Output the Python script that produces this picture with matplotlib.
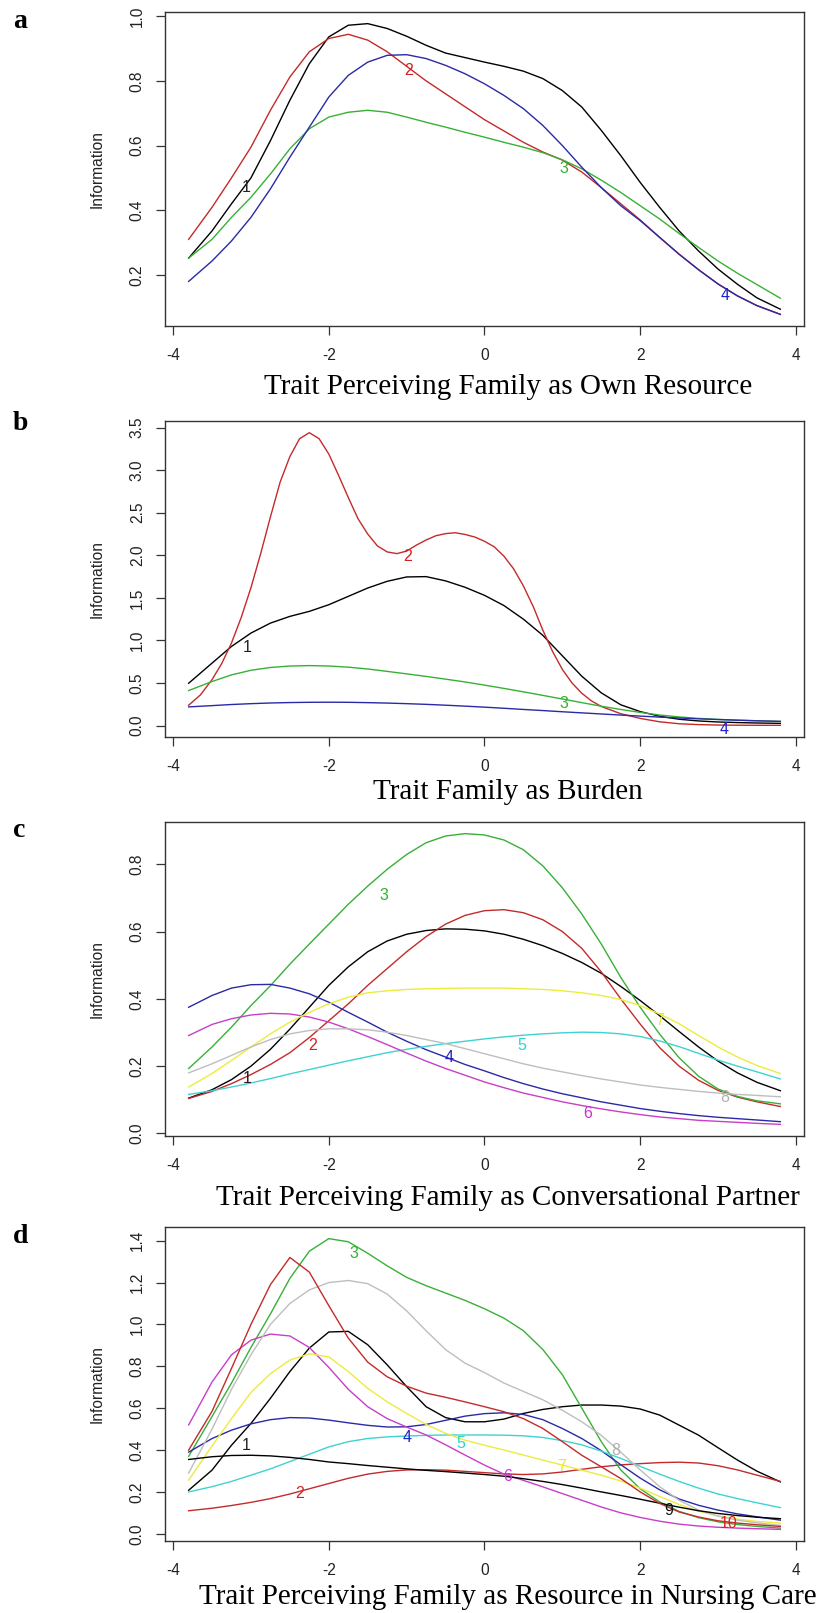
#!/usr/bin/env python3

import matplotlib
matplotlib.use("Agg")
import matplotlib.pyplot as plt

# common trait grid the curves were read at
theta = [-3.8, -3.5, -3.25, -3.0, -2.75, -2.5, -2.25, -2.0, -1.75, -1.5, -1.25,
         -1.0, -0.75, -0.5, -0.25, 0.0, 0.25, 0.5, 0.75, 1.0, 1.25, 1.5, 1.75,
         2.0, 2.25, 2.5, 2.75, 3.0, 3.25, 3.5, 3.8]

# a: Perceiving Family as Own Resource
own_1 = [0.252, 0.336, 0.42, 0.50, 0.615, 0.74, 0.853, 0.936, 0.972, 0.977, 0.962,
         0.938, 0.91, 0.886, 0.872, 0.858, 0.845, 0.83, 0.807, 0.77, 0.719, 0.647, 0.569,
         0.486, 0.409, 0.336, 0.274, 0.218, 0.171, 0.129, 0.094]
own_2 = [0.31, 0.409, 0.50, 0.595, 0.709, 0.812, 0.89, 0.931, 0.944, 0.926, 0.89,
         0.845, 0.80, 0.76, 0.72, 0.68, 0.645, 0.61, 0.58, 0.555, 0.518, 0.47, 0.42,
         0.37, 0.316, 0.264, 0.216, 0.172, 0.135, 0.105, 0.078]
own_3 = [0.252, 0.31, 0.378, 0.44, 0.512, 0.59, 0.652, 0.688, 0.703, 0.709, 0.703,
         0.688, 0.672, 0.657, 0.641, 0.626, 0.61, 0.595, 0.578, 0.556, 0.528, 0.493, 0.455,
         0.414, 0.373, 0.328, 0.285, 0.243, 0.205, 0.17, 0.128]
own_4 = [0.18, 0.243, 0.305, 0.378, 0.466, 0.564, 0.657, 0.75, 0.817, 0.858, 0.879,
         0.881, 0.869, 0.848, 0.822, 0.791, 0.755, 0.714, 0.662, 0.60, 0.533, 0.47, 0.414,
         0.368, 0.316, 0.264, 0.216, 0.172, 0.135, 0.105, 0.078]

# b: Family as Burden (item 2 read more densely, it bends sharply)
burden_2_theta = [-3.8, -3.65, -3.5, -3.375, -3.25, -3.125, -3.0, -2.875, -2.75, -2.625,
                  -2.5, -2.375, -2.25, -2.125, -2.0, -1.875, -1.75, -1.625, -1.5, -1.375,
                  -1.25, -1.125, -1.0, -0.875, -0.75, -0.625, -0.5, -0.375, -0.25, -0.125,
                  0.0, 0.125, 0.25, 0.375, 0.5, 0.625, 0.75, 0.875, 1.0, 1.125,
                  1.25, 1.375, 1.5, 1.75, 2.0, 2.25, 2.5, 2.75, 3.0, 3.25, 3.5, 3.8]
burden_2 = [0.24, 0.36, 0.54, 0.73, 0.97, 1.27, 1.62, 2.02, 2.45, 2.86,
            3.16, 3.37, 3.44, 3.37, 3.19, 2.94, 2.68, 2.43, 2.25, 2.11,
            2.04, 2.02, 2.05, 2.12, 2.18, 2.23, 2.255, 2.265, 2.245, 2.215,
            2.165, 2.10, 1.99, 1.84, 1.64, 1.40, 1.12, 0.87, 0.66, 0.50,
            0.38, 0.29, 0.225, 0.14, 0.085, 0.045, 0.022, 0.012, 0.007, 0.005, 0.004, 0.004]
burden_1 = [0.498, 0.734, 0.93, 1.087, 1.204, 1.283, 1.342, 1.42, 1.518, 1.616, 1.695,
            1.746, 1.75, 1.70, 1.625, 1.53, 1.41, 1.25, 1.06, 0.82, 0.58, 0.385, 0.245,
            0.165, 0.11, 0.075, 0.055, 0.043, 0.036, 0.031, 0.027]
burden_3 = [0.412, 0.518, 0.596, 0.65, 0.683, 0.70, 0.705, 0.70, 0.687, 0.665, 0.637,
            0.608, 0.578, 0.546, 0.513, 0.476, 0.437, 0.397, 0.355, 0.313, 0.27, 0.228, 0.19,
            0.155, 0.125, 0.102, 0.085, 0.073, 0.064, 0.057, 0.05]
burden_4 = [0.22, 0.235, 0.248, 0.258, 0.266, 0.271, 0.274, 0.275, 0.274, 0.27, 0.265,
            0.258, 0.25, 0.24, 0.229, 0.217, 0.204, 0.19, 0.177, 0.163, 0.15, 0.137, 0.124,
            0.112, 0.10, 0.09, 0.08, 0.072, 0.064, 0.057, 0.05]

# c: Perceiving Family as Conversational Partner
talk_1 = [0.105, 0.13, 0.16, 0.20, 0.25, 0.31, 0.375, 0.44, 0.495, 0.54, 0.572,
          0.592, 0.603, 0.608, 0.607, 0.602, 0.592, 0.577, 0.558, 0.535, 0.508, 0.476, 0.437,
          0.395, 0.35, 0.303, 0.257, 0.215, 0.18, 0.152, 0.127]
talk_2 = [0.104, 0.125, 0.148, 0.175, 0.205, 0.24, 0.285, 0.335, 0.385, 0.44, 0.49,
          0.54, 0.585, 0.622, 0.648, 0.662, 0.665, 0.656, 0.635, 0.60, 0.55, 0.48, 0.40,
          0.325, 0.255, 0.20, 0.158, 0.128, 0.108, 0.094, 0.08]
talk_3 = [0.193, 0.257, 0.316, 0.38, 0.439, 0.503, 0.563, 0.622, 0.681, 0.735, 0.785,
          0.829, 0.864, 0.884, 0.891, 0.887, 0.872, 0.843, 0.795, 0.73, 0.652, 0.563, 0.464,
          0.375, 0.295, 0.225, 0.17, 0.132, 0.11, 0.097, 0.088]
talk_4 = [0.375, 0.41, 0.432, 0.442, 0.443, 0.432, 0.415, 0.39, 0.36, 0.331, 0.301,
          0.274, 0.249, 0.227, 0.205, 0.186, 0.166, 0.148, 0.132, 0.118, 0.106, 0.094, 0.084,
          0.074, 0.066, 0.059, 0.053, 0.048, 0.044, 0.04, 0.035]
talk_5 = [0.116, 0.127, 0.138, 0.15, 0.163, 0.177, 0.19, 0.203, 0.216, 0.228, 0.24,
          0.25, 0.259, 0.267, 0.274, 0.281, 0.287, 0.292, 0.296, 0.299, 0.301, 0.30, 0.296,
          0.288, 0.275, 0.258, 0.238, 0.218, 0.20, 0.183, 0.162]
talk_6 = [0.291, 0.324, 0.341, 0.352, 0.357, 0.355, 0.346, 0.331, 0.311, 0.288, 0.264,
          0.239, 0.215, 0.193, 0.173, 0.153, 0.136, 0.12, 0.107, 0.094, 0.083, 0.073, 0.064,
          0.056, 0.049, 0.044, 0.039, 0.036, 0.033, 0.03, 0.027]
talk_7 = [0.138, 0.178, 0.217, 0.257, 0.296, 0.331, 0.36, 0.385, 0.405, 0.418, 0.424,
          0.428, 0.43, 0.431, 0.432, 0.432, 0.432, 0.43, 0.428, 0.424, 0.418, 0.41, 0.398,
          0.38, 0.355, 0.326, 0.291, 0.257, 0.227, 0.202, 0.178]
talk_8 = [0.18, 0.207, 0.232, 0.257, 0.279, 0.296, 0.306, 0.311, 0.311, 0.308, 0.301,
          0.291, 0.279, 0.267, 0.252, 0.237, 0.222, 0.207, 0.194, 0.183, 0.172, 0.162, 0.153,
          0.144, 0.137, 0.131, 0.125, 0.12, 0.116, 0.113, 0.109]

# d: Perceiving Family as Resource in Nursing Care
care_1 = [0.208, 0.304, 0.423, 0.527, 0.647, 0.775, 0.887, 0.964, 0.967, 0.903, 0.807,
          0.703, 0.607, 0.555, 0.535, 0.535, 0.548, 0.575, 0.594, 0.607, 0.615, 0.615, 0.61,
          0.596, 0.567, 0.519, 0.471, 0.411, 0.352, 0.299, 0.248]
care_2 = [0.11, 0.122, 0.135, 0.15, 0.168, 0.19, 0.215, 0.24, 0.265, 0.285, 0.298,
          0.305, 0.306, 0.304, 0.298, 0.292, 0.286, 0.283, 0.286, 0.295, 0.308, 0.32, 0.329,
          0.335, 0.34, 0.342, 0.338, 0.325, 0.305, 0.28, 0.25]
care_3 = [0.37, 0.56, 0.72, 0.89, 1.05, 1.22, 1.35, 1.41, 1.395, 1.34, 1.28,
          1.225, 1.185, 1.15, 1.115, 1.075, 1.03, 0.97, 0.88, 0.76, 0.60, 0.44, 0.305,
          0.215, 0.152, 0.107, 0.077, 0.057, 0.044, 0.035, 0.027]
care_4 = [0.39, 0.455, 0.495, 0.525, 0.545, 0.555, 0.553, 0.543, 0.53, 0.518, 0.51,
          0.511, 0.522, 0.542, 0.562, 0.574, 0.578, 0.57, 0.545, 0.503, 0.455, 0.397, 0.33,
          0.266, 0.21, 0.166, 0.136, 0.113, 0.095, 0.081, 0.065]
care_5 = [0.20, 0.225, 0.25, 0.28, 0.31, 0.345, 0.38, 0.415, 0.44, 0.455, 0.463,
          0.467, 0.47, 0.472, 0.472, 0.472, 0.471, 0.468, 0.46, 0.445, 0.425, 0.395, 0.36,
          0.322, 0.285, 0.25, 0.218, 0.19, 0.168, 0.148, 0.125]
care_6 = [0.52, 0.725, 0.855, 0.925, 0.954, 0.945, 0.89, 0.795, 0.69, 0.607, 0.55,
          0.51, 0.472, 0.425, 0.376, 0.328, 0.285, 0.255, 0.224, 0.192, 0.16, 0.128, 0.10,
          0.078, 0.06, 0.046, 0.037, 0.031, 0.027, 0.024, 0.021]
care_7 = [0.256, 0.42, 0.55, 0.675, 0.765, 0.83, 0.86, 0.845, 0.775, 0.695, 0.63,
          0.575, 0.522, 0.48, 0.447, 0.423, 0.40, 0.376, 0.352, 0.328, 0.304, 0.28, 0.252,
          0.218, 0.178, 0.14, 0.108, 0.086, 0.07, 0.059, 0.051]
care_8 = [0.29, 0.50, 0.69, 0.855, 1.0, 1.10, 1.165, 1.20, 1.21, 1.195, 1.145,
          1.065, 0.97, 0.88, 0.815, 0.77, 0.72, 0.68, 0.64, 0.59, 0.535, 0.47, 0.39,
          0.305, 0.225, 0.16, 0.113, 0.084, 0.065, 0.052, 0.04]
care_9 = [0.355, 0.368, 0.374, 0.375, 0.372, 0.365, 0.355, 0.343, 0.335, 0.326, 0.318,
          0.31, 0.303, 0.297, 0.29, 0.283, 0.275, 0.263, 0.25, 0.235, 0.218, 0.20, 0.183,
          0.165, 0.146, 0.127, 0.11, 0.097, 0.087, 0.079, 0.072]
care_10 = [0.40, 0.585, 0.79, 1.0, 1.19, 1.32, 1.25, 1.09, 0.935, 0.82, 0.75,
           0.705, 0.672, 0.652, 0.63, 0.607, 0.583, 0.55, 0.503, 0.44, 0.375, 0.32, 0.264,
           0.20, 0.145, 0.104, 0.08, 0.062, 0.051, 0.043, 0.035]

# where the item numbers sit on the curves (trait, information)
own_label_at = [(-3.06, 0.471), (-0.97, 0.833), (1.02, 0.528), (3.09, 0.135)]
burden_label_at = [(-3.05, 0.92), (-0.99, 1.99), (1.02, 0.255), (3.08, -0.04)]
talk_label_at = [(-3.05, 0.163), (-2.21, 0.262), (-1.29, 0.706), (-0.45, 0.227),
                 (0.48, 0.262), (1.32, 0.06), (2.25, 0.336), (3.09, 0.106)]
care_label_at = [(-3.06, 0.42), (-2.37, 0.19), (-1.68, 1.34), (-1.0, 0.46), (-0.30, 0.43),
                 (0.30, 0.275), (0.99, 0.32), (1.68, 0.40), (2.37, 0.11), (3.13, 0.048)]

titles = ["Trait Perceiving Family as Own Resource",
          "Trait Family as Burden",
          "Trait Perceiving Family as Conversational Partner",
          "Trait Perceiving Family as Resource in Nursing Care"]
letters = ["a", "b", "c", "d"]
x_ticks = [-4, -2, 0, 2, 4]
y_ticks = [[0.2, 0.4, 0.6, 0.8, 1.0],
           [0.0, 0.5, 1.0, 1.5, 2.0, 2.5, 3.0, 3.5],
           [0.0, 0.2, 0.4, 0.6, 0.8],
           [0.0, 0.2, 0.4, 0.6, 0.8, 1.0, 1.2, 1.4]]

# R palette 1..8, recycled for items 9 and 10
line_colors = ["#000000", "#c42a2a", "#38b038", "#2a2aa6", "#3fd2d2", "#c83ec8",
               "#ecec3c", "#bebebe", "#000000", "#c42a2a"]
text_colors = ["#222222", "#d42020", "#30b030", "#2020c8", "#30d0d0", "#d030d0",
               "#e8e830", "#b0b0b0", "#111111", "#e02020"]

SANS = "Liberation Sans"
SERIF = "Liberation Serif"
W, H = 820, 1613

# pixel layout: box top, box bottom, title centre, letter baseline
boxes = [(12, 326, 387, 28), (421, 737, 792, 430), (822, 1136, 1198, 837), (1227, 1541, 1597, 1243)]
BOX_LEFT, BOX_RIGHT = 165, 804


def draw_panel(fig, k, curves, label_at):
    top, bottom, title_y, letter_y = boxes[k]
    ax = fig.add_axes([BOX_LEFT / W, 1 - bottom / H, (BOX_RIGHT - BOX_LEFT) / W, (bottom - top) / H])
    lo, hi = 1e9, -1e9
    for i, (xs, ys) in enumerate(curves):
        ax.plot(xs, ys, color=line_colors[i], lw=1.0)
        lo, hi = min(lo, min(ys)), max(hi, max(ys))
    for i, (x, y) in enumerate(label_at):
        ax.text(x, y, str(i + 1), color=text_colors[i], ha="center", va="center",
                fontsize=11.5, family=SANS)

    # R style 4% range extension on both axes
    ax.set_xlim(-3.8 - 0.304, 3.8 + 0.304)
    pad = 0.04 * (hi - lo)
    ax.set_ylim(lo - pad, hi + pad)

    ax.set_xticks(x_ticks)
    ax.set_xticklabels([str(t) for t in x_ticks], family=SANS)
    ax.set_yticks(y_ticks[k])
    ax.set_yticklabels(["%.1f" % t for t in y_ticks[k]], rotation=90, va="center", family=SANS)
    ax.tick_params(direction="out", length=6.5, width=0.9, colors="#333333",
                   labelsize=11.2, labelcolor="#222222")
    ax.tick_params(axis="x", pad=9)
    ax.tick_params(axis="y", pad=8)
    for sp in ax.spines.values():
        sp.set_color("#333333")
        sp.set_linewidth(1.0)

    ax.text(-0.106, 0.5, "Information", transform=ax.transAxes, rotation=90,
            ha="center", va="center", fontsize=11.2, family=SANS, color="#222222")
    fig.text(508 / W, 1 - title_y / H, titles[k], ha="center", va="center",
             fontsize=21, family=SERIF, color="black")
    fig.text(13 / W, 1 - letter_y / H, letters[k], ha="left", va="baseline",
             fontsize=20, family=SERIF, fontweight="bold", color="black")
    return ax


def main():
    fig = plt.figure(figsize=(W / 100, H / 100), dpi=100)

    draw_panel(fig, 0, [(theta, own_1), (theta, own_2), (theta, own_3), (theta, own_4)],
               own_label_at)
    draw_panel(fig, 1, [(theta, burden_1), (burden_2_theta, burden_2), (theta, burden_3),
                        (theta, burden_4)], burden_label_at)
    talk = [talk_1, talk_2, talk_3, talk_4, talk_5, talk_6, talk_7, talk_8]
    draw_panel(fig, 2, [(theta, s) for s in talk], talk_label_at)
    care = [care_1, care_2, care_3, care_4, care_5, care_6, care_7, care_8, care_9, care_10]
    draw_panel(fig, 3, [(theta, s) for s in care], care_label_at)

    fig.savefig("out.png", dpi=100)


if __name__ == "__main__":
    main()
